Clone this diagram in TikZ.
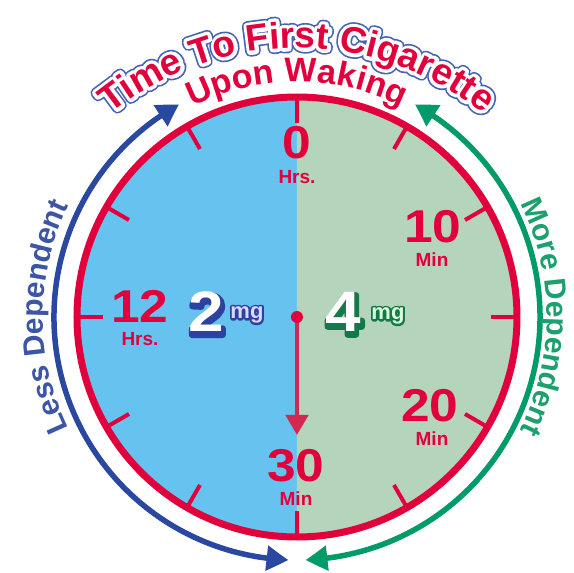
\documentclass[tikz,border=0pt]{standalone}
\usepackage{fontspec}
\setmainfont{Liberation Sans}
\newfontfamily\numfnt[FakeStretch=1.12]{Liberation Sans}
\newfontfamily\haloA[FakeBold=28]{Liberation Sans Bold}
\newfontfamily\haloB[FakeBold=19]{Liberation Sans Bold}
\newfontfamily\digA[FakeBold=11,FakeStretch=1.12]{Liberation Sans Bold}
\newfontfamily\mgA[FakeBold=18]{Liberation Sans Bold}
\usetikzlibrary{arrows.meta,bending,decorations.text,calc}
\definecolor{cred}{RGB}{226,0,60}
\definecolor{handred}{RGB}{212,40,80}
\definecolor{bluefill}{RGB}{102,194,238}
\definecolor{greenfill}{RGB}{181,212,188}
\definecolor{bluearc}{RGB}{42,72,160}
\definecolor{greenarc}{RGB}{0,155,105}
\definecolor{titleblue}{RGB}{70,100,180}
\definecolor{lessblue}{RGB}{60,85,165}
\definecolor{moregreen}{RGB}{30,160,110}
\definecolor{mgblue}{RGB}{45,65,160}
\definecolor{mggreen}{RGB}{20,120,75}
\newcommand\rjoin{\special{pdf:literal direct 1 j 1 J}}
\newcommand\titlefnt{\bfseries\fontsize{37}{40}\selectfont}
\newcommand\wakefnt{\bfseries\fontsize{34}{36}\selectfont}
\newcommand\depfnt{\bfseries\fontsize{30}{32}\selectfont}
\begin{document}
\begin{tikzpicture}[x=1pt,y=1pt,
  numlbl/.style={text=cred,font=\numfnt\bfseries\fontsize{46}{46}\selectfont,inner sep=0pt},
  unitlbl/.style={text=cred,font=\bfseries\fontsize{19}{19}\selectfont,inner sep=0pt},
  clocktick/.style={draw=cred,line width=4pt},
  bigdig/.style={font=\numfnt\bfseries\fontsize{57}{57}\selectfont,inner sep=0pt},
  bigdighalo/.style={font=\digA\fontsize{57}{57}\selectfont,inner sep=0pt},
  smallmg/.style={font=\bfseries\fontsize{22}{22}\selectfont,inner sep=0pt},
  smallmghalo/.style={font=\mgA\fontsize{22}{22}\selectfont,inner sep=0pt},
  arctip/.tip={Triangle[length=22pt,width=24pt,bend]},
]
\fill[white] (-297,-256) rectangle (277,317);
\useasboundingbox (-297,-256) rectangle (277,317);

\coordinate (c) at (0,0);
% dial halves
\fill[bluefill] (c) -- (90:220) arc[start angle=90,end angle=270,radius=220pt] -- cycle;
\fill[greenfill] (c) -- (90:220) arc[start angle=90,end angle=-90,radius=220pt] -- cycle;
% ticks
\foreach \a in {0,30,...,330} \draw[clocktick] (\a:194) -- (\a:220);
% ring
\draw[cred,line width=7pt] (c) circle[radius=220pt];

% hand
\coordinate (handtip) at (0,-118);
\draw[handred,line width=4.5pt,-{Triangle[length=20pt,width=22pt]}] (c) -- (handtip);
\fill[cred] (c) circle[radius=6pt];

% numbers
\node[numlbl] (n0) at (0,174) {0};
\node[unitlbl] (u0) at (0,140) {Hrs.};
\node[numlbl] (n10) at (136,90) {10};
\node[unitlbl] (u10) at (135,57) {Min};
\node[numlbl] (n12) at (-157,11) {12};
\node[unitlbl] (u12) at (-157,-22) {Hrs.};
\node[numlbl] (n20) at (133,-89) {20};
\node[unitlbl] (u20) at (135,-122) {Min};
\node[numlbl] (n30) at (-1,-149) {30};
\node[unitlbl] (u30) at (-1,-182) {Min};

% 2mg / 4mg
\coordinate (two) at (-91,5);
\coordinate (twomg) at (-50,2);
\coordinate (four) at (46,5);
\coordinate (fourmg) at (91,1);
\node[bigdighalo,text=mgblue] at ($(two)+(1.5,-3)$) {\rjoin 2};
\node[bigdighalo,text=mggreen] at ($(four)+(1.5,-3)$) {\rjoin 4};
\node[smallmghalo,text=mgblue] at (twomg) {\rjoin mg};
\node[smallmghalo,text=mggreen] at (fourmg) {\rjoin mg};
\node[bigdig,text=white] (d2) at (two) {2};
\node[bigdig,text=white] (d4) at (four) {4};
\node[smallmg,text=white!85!blue] (m2) at (twomg) {mg};
\node[smallmg,text=white!85!green] (m4) at (fourmg) {mg};

% outer arrows
\draw[bluearc,line width=5.5pt,arctip-arctip] (119:243) arc[start angle=119,end angle=268,radius=243pt];
\draw[greenarc,line width=5.5pt,arctip-arctip] (61:243) arc[start angle=61,end angle=-88,radius=243pt];

% title: blue rim, white halo, red letters
\path[decorate,decoration={text along path,text align=center,text color=titleblue,
    text={|\rjoin\haloA\fontsize{37}{40}\selectfont|Time To First Cigarette}}]
  ($(0,-28)+(140:297)$) arc[start angle=140,end angle=40,radius=297pt];
\path[decorate,decoration={text along path,text align=center,text color=white,
    text={|\rjoin\haloB\fontsize{37}{40}\selectfont|Time To First Cigarette}}]
  ($(0,-28)+(140:297)$) arc[start angle=140,end angle=40,radius=297pt];
\path[decorate,decoration={text along path,text align=center,text color=cred,
    text={|\titlefnt|Time To First Cigarette}}]
  ($(0,-28)+(140:297)$) arc[start angle=140,end angle=40,radius=297pt];

% upon waking
\path[decorate,decoration={text along path,text align=center,text color=cred,
    text={|\wakefnt|Upon Waking}}]
  (125:235) arc[start angle=125,end angle=55,radius=235pt];

% side labels
\path[decorate,decoration={text along path,text align=center,text color=lessblue,
    text={|\depfnt|Less Dependent}}]
  (214:254) arc[start angle=214,end angle=146,radius=254pt];
\path[decorate,decoration={text along path,text align=center,text color=moregreen,
    text={|\depfnt|More Dependent}}]
  (34:250) arc[start angle=34,end angle=-34,radius=250pt];
\end{tikzpicture}
\end{document}
